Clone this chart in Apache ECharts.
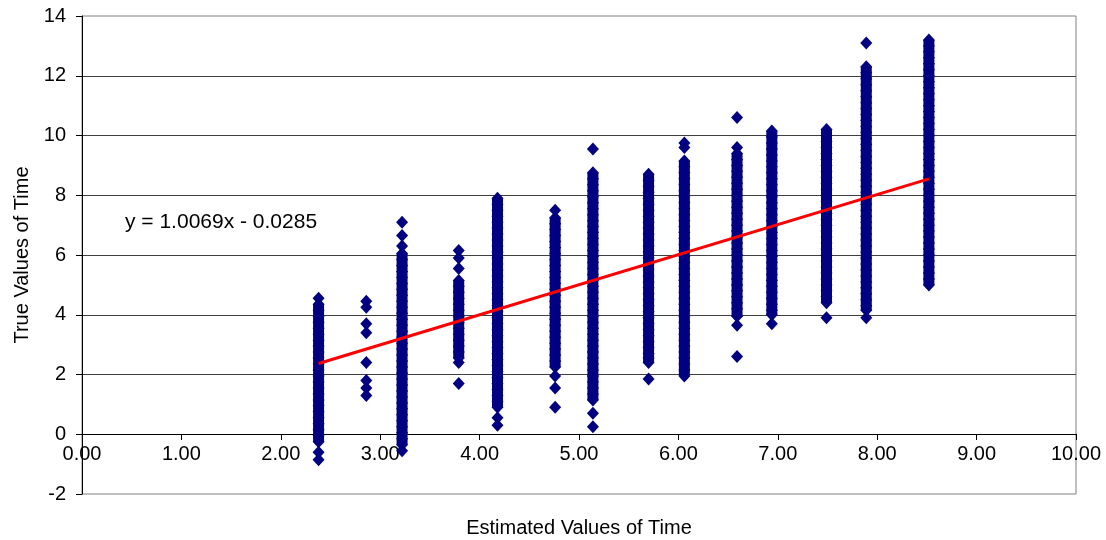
<!DOCTYPE html>
<html>
<head>
<meta charset="utf-8">
<title>Estimated vs True Values of Time</title>
<script src="https://cdn.jsdelivr.net/npm/echarts@6/dist/echarts.min.js"></script>
<style>
	html, body { margin:0; padding:0; background:#fff; }
	#chart { width:1106px; height:540px; }
</style>
</head>
<body>
<div id="chart"></div>
<script>
// estimated values (x position of each column)
var estX = [2.38, 2.86, 3.22, 3.79, 4.18, 4.76, 5.14, 5.70, 6.06, 6.59, 6.94, 7.49, 7.89, 8.52];

// true values, top to bottom
var col1 = [4.55,4.35,4.15,3.95,3.75,3.55,3.35,3.15,2.95,2.75,2.55,2.35,2.15,1.95,1.75,1.55,1.35,1.15,0.95,0.75,0.55,0.35,0.15,-0.05,-0.25,-0.6,-0.85];
var col2 = [4.45,4.25,3.7,3.4,2.4,1.8,1.55,1.3];
var col3 = [7.1,6.65,6.3,6.05,5.85,5.65,5.45,5.25,5.05,4.85,4.65,4.45,4.25,4.05,3.85,3.65,3.45,3.25,3.05,2.85,2.65,2.45,2.25,2.05,1.85,1.65,1.45,1.25,1.05,0.85,0.65,0.45,0.25,0.05,-0.15,-0.35,-0.55];
var col4 = [6.15,5.9,5.55,5.15,4.95,4.75,4.55,4.35,4.15,3.95,3.75,3.55,3.35,3.15,2.95,2.75,2.55,2.4,1.7];
var col5 = [7.9,7.7,7.5,7.3,7.1,6.9,6.7,6.5,6.3,6.1,5.9,5.7,5.5,5.3,5.1,4.9,4.7,4.5,4.3,4.1,3.9,3.7,3.5,3.3,3.1,2.9,2.7,2.5,2.3,2.1,1.9,1.7,1.5,1.3,1.1,0.9,0.55,0.3];
var col6 = [7.5,7.25,7.05,6.85,6.65,6.45,6.25,6.05,5.85,5.65,5.45,5.25,5.05,4.85,4.65,4.45,4.25,4.05,3.85,3.65,3.45,3.25,3.05,2.85,2.65,2.45,2.25,1.95,1.55,0.9];
var col7 = [9.55,8.75,8.55,8.35,8.15,7.95,7.75,7.55,7.35,7.15,6.95,6.75,6.55,6.35,6.15,5.95,5.75,5.55,5.35,5.15,4.95,4.75,4.55,4.35,4.15,3.95,3.75,3.55,3.35,3.15,2.95,2.75,2.55,2.35,2.15,1.95,1.75,1.55,1.35,1.15,0.7,0.25];
var col8 = [8.7,8.5,8.3,8.1,7.9,7.7,7.5,7.3,7.1,6.9,6.7,6.5,6.3,6.1,5.9,5.7,5.5,5.3,5.1,4.9,4.7,4.5,4.3,4.1,3.9,3.7,3.5,3.3,3.1,2.9,2.7,2.55,2.4,1.85];
var col9 = [9.75,9.6,9.15,8.95,8.75,8.55,8.35,8.15,7.95,7.75,7.55,7.35,7.15,6.95,6.75,6.55,6.35,6.15,5.95,5.75,5.55,5.35,5.15,4.95,4.75,4.55,4.35,4.15,3.95,3.75,3.55,3.35,3.15,2.95,2.75,2.55,2.35,2.15,1.95];
var col10 = [10.6,9.6,9.4,9.2,9.0,8.8,8.6,8.4,8.2,8.0,7.8,7.6,7.4,7.2,7.0,6.8,6.6,6.4,6.2,6.0,5.8,5.6,5.4,5.2,5.0,4.8,4.6,4.4,4.2,3.95,3.65,2.6];
var col11 = [10.15,9.95,9.75,9.55,9.35,9.15,8.95,8.75,8.55,8.35,8.15,7.95,7.75,7.55,7.35,7.15,6.95,6.75,6.55,6.35,6.15,5.95,5.75,5.55,5.35,5.15,4.95,4.75,4.55,4.35,4.15,4.0,3.7];
var col12 = [10.2,10.0,9.8,9.6,9.4,9.2,9.0,8.8,8.6,8.4,8.2,8.0,7.8,7.6,7.4,7.2,7.0,6.8,6.6,6.4,6.2,6.0,5.8,5.6,5.4,5.2,5.0,4.8,4.6,4.4,3.9];
var col13 = [13.1,12.3,12.1,11.9,11.7,11.5,11.3,11.1,10.9,10.7,10.5,10.3,10.1,9.9,9.7,9.5,9.3,9.1,8.9,8.7,8.5,8.3,8.1,7.9,7.7,7.5,7.3,7.1,6.9,6.7,6.5,6.3,6.1,5.9,5.7,5.5,5.3,5.1,4.9,4.7,4.5,4.3,4.15,3.9];
var col14 = [13.2,13.0,12.8,12.6,12.4,12.2,12.0,11.8,11.6,11.4,11.2,11.0,10.8,10.6,10.4,10.2,10.0,9.8,9.6,9.4,9.2,9.0,8.8,8.6,8.4,8.2,8.0,7.8,7.6,7.4,7.2,7.0,6.8,6.6,6.4,6.2,6.0,5.8,5.6,5.4,5.2,5.0];

// where the points overlap into a solid band (null = no band)
var denseTop    = [4.35, null, 6.05, 5.15, 7.9, 7.25, 8.75, 8.7, 9.15, 9.4, 10.15, 10.2, 12.3, 13.2];
var denseBottom = [-0.25, null, -0.35, 2.55, 0.9, 2.25, 1.15, 2.4, 1.95, 3.95, 4.0, 4.4, 4.15, 5.0];

// trend line end points (y = 1.0069x - 0.0285)
var trendX = [2.38, 8.52];
var trendY = [2.368, 8.550];
var trendText = "y = 1.0069x - 0.0285";

var yTicks = [-2, 0, 2, 4, 6, 8, 10, 12, 14];

var columns = [col1,col2,col3,col4,col5,col6,col7,col8,col9,col10,col11,col12,col13,col14];
var points = [];
for (var i=0;i<columns.length;i++) {
	for (var j=0;j<columns[i].length;j++) {
		points.push([estX[i], columns[i][j]]);
	}
}
var trend = [];
for (var i=0;i<trendX.length;i++) {
	trend.push([trendX[i], trendY[i]]);
}

var font = "'Liberation Sans', Arial, sans-serif";
var navy = '#000080';

var series = [];
// solid bands under the diamonds
for (var i=0;i<estX.length;i++) {
	if (denseTop[i] == null) continue;
	series.push({
		name: 'band' + i,
		type: 'line',
		data: [[estX[i], denseTop[i]], [estX[i], denseBottom[i]]],
		showSymbol: false,
		symbol: 'none',
		silent: true,
		lineStyle: { color: navy, width: 11, cap: 'butt' },
		z: 1
	});
}
series.push({
	name: 'points',
	type: 'scatter',
	symbol: 'diamond',
	symbolSize: [12, 13],
	itemStyle: { color: navy, opacity: 1 },
	data: points,
	z: 2
});
series.push({
	name: 'trend',
	type: 'line',
	data: trend,
	showSymbol: false,
	symbol: 'none',
	lineStyle: { color: '#ff0000', width: 3 },
	z: 3
});

var myChart = echarts.init(document.getElementById("chart"));

var option = {
	animation: false,
	backgroundColor: '#ffffff',
	textStyle: { fontFamily: font },
	grid: {
		left: 82, right: 30, top: 16, bottom: 46,
		outerBoundsMode: 'none',
		containLabel: false,
		show: true,
		borderColor: '#808080',
		borderWidth: 1
	},
	xAxis: {
		type: 'value',
		min: 0, max: 10, interval: 1,
		position: 'bottom',
		offset: -60,   // x axis crosses at y = 0
		name: 'Estimated Values of Time',
		nameLocation: 'middle',
		nameGap: 84,
		nameTextStyle: { fontSize: 20, color: '#000', fontFamily: font },
		axisLine: { show: true, onZero: false, lineStyle: { color: '#000', width: 1 } },
		axisTick: { show: true, length: 6, lineStyle: { color: '#000' } },
		axisLabel: {
			fontSize: 20, color: '#000', margin: 10, fontFamily: font,
			showMinLabel: true, showMaxLabel: true,
			formatter: function (v) { return v.toFixed(2); }
		},
		splitLine: { show: false }
	},
	yAxis: {
		type: 'value',
		min: yTicks[0], max: yTicks[yTicks.length-1], interval: 2,
		name: 'True Values of Time',
		nameLocation: 'middle',
		nameGap: 50,
		nameRotate: 90,
		nameTextStyle: { fontSize: 20, color: '#000', fontFamily: font },
		axisLine: { show: true, onZero: false, lineStyle: { color: '#000', width: 1 } },
		axisTick: { show: true, length: 6, lineStyle: { color: '#000' } },
		axisLabel: { fontSize: 20, color: '#000', margin: 16, fontFamily: font },
		splitLine: { show: true, showMinLine: false, showMaxLine: false, lineStyle: { color: '#404040', width: 1 } }
	},
	graphic: [
		{
			type: 'text',
			left: 125, top: 212,
			style: { text: trendText, fontSize: 21, fill: '#000', fontFamily: font }
		}
	],
	series: series
};

myChart.setOption(option);
</script>
</body>
</html>
